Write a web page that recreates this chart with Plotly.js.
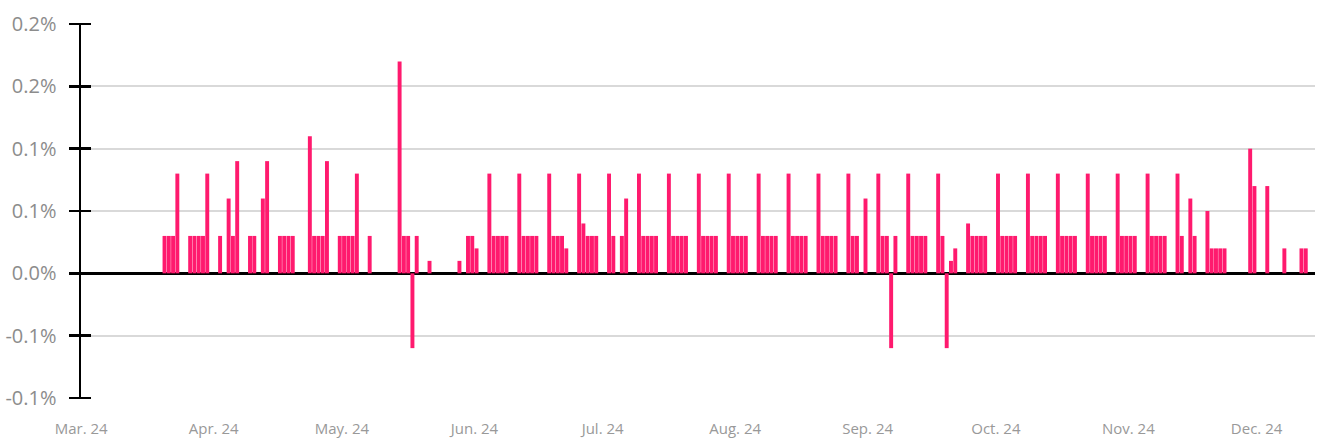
<!DOCTYPE html>
<html>
<head>
<meta charset="utf-8">
<script src="https://cdn.plot.ly/plotly-3.0.1.min.js"></script>
<style>
  html, body { margin: 0; padding: 0; background: #ffffff; }
  #chart { width: 1317px; height: 440px; }
</style>
</head>
<body>
<div id="chart"></div>
<script>
// Daily values (percent)
const dates = [
  "2024-03-20","2024-03-21","2024-03-22","2024-03-23",
  "2024-03-26","2024-03-27","2024-03-28","2024-03-29","2024-03-30",
  "2024-04-02","2024-04-04","2024-04-05","2024-04-06",
  "2024-04-09","2024-04-10","2024-04-12","2024-04-13",
  "2024-04-16","2024-04-17","2024-04-18","2024-04-19",
  "2024-04-23","2024-04-24","2024-04-25","2024-04-26","2024-04-27",
  "2024-04-30","2024-05-01","2024-05-02","2024-05-03","2024-05-04",
  "2024-05-07",
  "2024-05-14","2024-05-15","2024-05-16","2024-05-17","2024-05-18",
  "2024-05-21",
  "2024-05-28","2024-05-30","2024-05-31","2024-06-01",
  "2024-06-04","2024-06-05","2024-06-06","2024-06-07","2024-06-08",
  "2024-06-11","2024-06-12","2024-06-13","2024-06-14","2024-06-15",
  "2024-06-18","2024-06-19","2024-06-20","2024-06-21","2024-06-22",
  "2024-06-25","2024-06-26","2024-06-27","2024-06-28","2024-06-29",
  "2024-07-02","2024-07-03","2024-07-05","2024-07-06",
  "2024-07-09","2024-07-10","2024-07-11","2024-07-12","2024-07-13",
  "2024-07-16","2024-07-17","2024-07-18","2024-07-19","2024-07-20",
  "2024-07-23","2024-07-24","2024-07-25","2024-07-26","2024-07-27",
  "2024-07-30","2024-07-31","2024-08-01","2024-08-02","2024-08-03",
  "2024-08-06","2024-08-07","2024-08-08","2024-08-09","2024-08-10",
  "2024-08-13","2024-08-14","2024-08-15","2024-08-16","2024-08-17",
  "2024-08-20","2024-08-21","2024-08-22","2024-08-23","2024-08-24",
  "2024-08-27","2024-08-28","2024-08-29","2024-08-31",
  "2024-09-03","2024-09-04","2024-09-05","2024-09-06","2024-09-07",
  "2024-09-10","2024-09-11","2024-09-12","2024-09-13","2024-09-14",
  "2024-09-17","2024-09-18","2024-09-19","2024-09-20","2024-09-21",
  "2024-09-24","2024-09-25","2024-09-26","2024-09-27","2024-09-28",
  "2024-10-01","2024-10-02","2024-10-03","2024-10-04","2024-10-05",
  "2024-10-08","2024-10-09","2024-10-10","2024-10-11","2024-10-12",
  "2024-10-15","2024-10-16","2024-10-17","2024-10-18","2024-10-19",
  "2024-10-22","2024-10-23","2024-10-24","2024-10-25","2024-10-26",
  "2024-10-29","2024-10-30","2024-10-31","2024-11-01","2024-11-02",
  "2024-11-05","2024-11-06","2024-11-07","2024-11-08","2024-11-09",
  "2024-11-12","2024-11-13","2024-11-15","2024-11-16",
  "2024-11-19","2024-11-20","2024-11-21","2024-11-22","2024-11-23",
  "2024-11-29","2024-11-30",
  "2024-12-03","2024-12-07","2024-12-11","2024-12-12"
];
const values = [
  0.03,0.03,0.03,0.08,
  0.03,0.03,0.03,0.03,0.08,
  0.03,0.06,0.03,0.09,
  0.03,0.03,0.06,0.09,
  0.03,0.03,0.03,0.03,
  0.11,0.03,0.03,0.03,0.09,
  0.03,0.03,0.03,0.03,0.08,
  0.03,
  0.17,0.03,0.03,-0.06,0.03,
  0.01,
  0.01,0.03,0.03,0.02,
  0.08,0.03,0.03,0.03,0.03,
  0.08,0.03,0.03,0.03,0.03,
  0.08,0.03,0.03,0.03,0.02,
  0.08,0.04,0.03,0.03,0.03,
  0.08,0.03,0.03,0.06,
  0.08,0.03,0.03,0.03,0.03,
  0.08,0.03,0.03,0.03,0.03,
  0.08,0.03,0.03,0.03,0.03,
  0.08,0.03,0.03,0.03,0.03,
  0.08,0.03,0.03,0.03,0.03,
  0.08,0.03,0.03,0.03,0.03,
  0.08,0.03,0.03,0.03,0.03,
  0.08,0.03,0.03,0.06,
  0.08,0.03,0.03,-0.06,0.03,
  0.08,0.03,0.03,0.03,0.03,
  0.08,0.03,-0.06,0.01,0.02,
  0.04,0.03,0.03,0.03,0.03,
  0.08,0.03,0.03,0.03,0.03,
  0.08,0.03,0.03,0.03,0.03,
  0.08,0.03,0.03,0.03,0.03,
  0.08,0.03,0.03,0.03,0.03,
  0.08,0.03,0.03,0.03,0.03,
  0.08,0.03,0.03,0.03,0.03,
  0.08,0.03,0.06,0.03,
  0.05,0.02,0.02,0.02,0.02,
  0.10,0.07,
  0.07,0.02,0.02,0.02
];

const yTickVals = [-0.10, -0.05, 0, 0.05, 0.10, 0.15, 0.20];
const yTickText = ["-0.1%", "-0.1%", "0.0%", "0.1%", "0.1%", "0.2%", "0.2%"];
const yRange = [-0.10, 0.20];

const bars = {
  type: "bar",
  x: dates,
  y: values,
  xperiod: 86400000,
  xperiodalignment: "middle",
  marker: { color: "#FF1A6E", line: { width: 0 } },
  hoverinfo: "x+y"
};
// empty trace so the tick-mark axis (y2) gets drawn
const tickAxisHolder = {
  type: "scatter",
  x: [],
  y: [],
  yaxis: "y2",
  showlegend: false,
  hoverinfo: "skip"
};

const layout = {
  width: 1317,
  height: 440,
  margin: { l: 81, r: 2, t: 24, b: 42 },
  paper_bgcolor: "#ffffff",
  plot_bgcolor: "#ffffff",
  showlegend: false,
  bargap: 0.08,
  font: { family: "Open Sans, sans-serif" },
  xaxis: {
    type: "date",
    range: ["2024-02-29 23:00", "2024-12-14 16:00"],
    dtick: "M1",
    tick0: "2024-03-01",
    tickformat: "%b. %y",
    showgrid: false,
    zeroline: false,
    showline: false,
    ticks: "",
    ticklabelstandoff: 20,
    tickfont: { family: "Open Sans, sans-serif", size: 15, color: "#999999" }
  },
  yaxis: {
    range: yRange,
    tickmode: "array",
    tickvals: yTickVals,
    ticktext: yTickText,
    showgrid: true,
    gridcolor: "#d9d9d9",
    gridwidth: 2,
    zeroline: true,
    zerolinecolor: "#000000",
    zerolinewidth: 2.5,
    showline: true,
    linecolor: "#000000",
    linewidth: 2.5,
    ticks: "outside",
    ticklen: 10,
    tickwidth: 2.5,
    tickcolor: "#000000",
    ticklabelstandoff: 8,
    tickfont: { family: "Open Sans, sans-serif", size: 20, color: "#8c8c8c" }
  },
  yaxis2: {
    overlaying: "y",
    anchor: "free",
    position: 0.0081,
    side: "left",
    range: yRange,
    autorange: false,
    tickmode: "array",
    tickvals: yTickVals,
    showticklabels: false,
    showgrid: false,
    zeroline: false,
    showline: false,
    ticks: "outside",
    ticklen: 20,
    tickwidth: 2.5,
    tickcolor: "#000000"
  }
};

Plotly.newPlot("chart", [bars, tickAxisHolder], layout, { displayModeBar: false, staticPlot: true });
</script>
</body>
</html>
